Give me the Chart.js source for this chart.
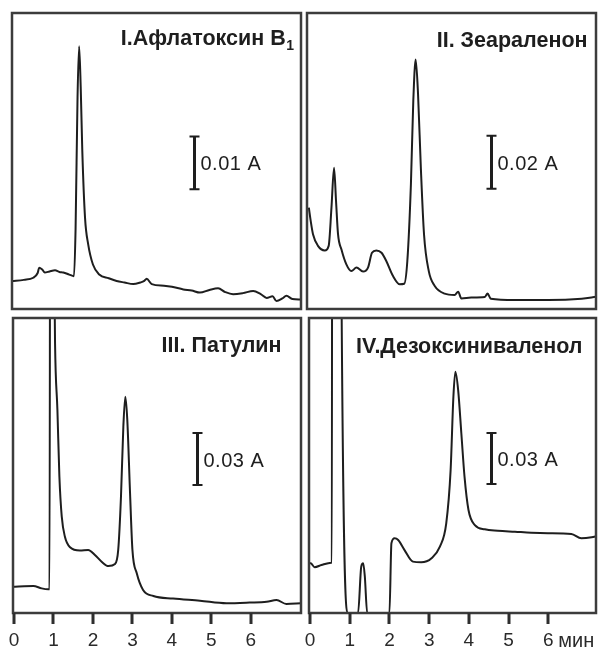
<!DOCTYPE html>
<html>
<head>
<meta charset="utf-8">
<script src="https://cdn.jsdelivr.net/npm/chart.js@4"></script>
<style>
  body { margin: 0; background: #fff; width: 598px; height: 648px; position: relative; overflow: hidden; }
  .panel { position: absolute; }
</style>
</head>
<body>
<div class="panel" id="p1"><canvas id="c1"></canvas></div>
<div class="panel" id="p2"><canvas id="c2"></canvas></div>
<div class="panel" id="p3"><canvas id="c3"></canvas></div>
<div class="panel" id="p4"><canvas id="c4"></canvas></div>
<script>
// retention time, min  /  signal, mA (1 mA = 0.001 A)
const timeI = [-0.05, 0.25, 0.49, 0.6, 0.64, 0.72, 0.78, 0.9, 1.04, 1.15, 1.25, 1.4, 1.52, 1.56, 1.61, 1.65, 1.69, 1.73, 1.8, 1.88, 2.0, 2.16, 2.4, 2.6, 2.8, 3.02, 3.2, 3.3, 3.36, 3.49, 3.8, 4.0, 4.29, 4.5, 4.71, 4.95, 5.17, 5.35, 5.55, 5.8, 6.06, 6.25, 6.4, 6.55, 6.65, 6.8, 6.9, 7.05, 7.27];
const signalI = [5.3, 5.5, 5.9, 6.8, 7.8, 7.4, 6.9, 7.1, 7.3, 7.0, 6.9, 6.5, 6.2, 15, 40, 49.6, 42, 30, 17.2, 12.2, 8.4, 6.5, 5.8, 5.3, 5.0, 4.7, 5.0, 5.3, 5.7, 4.7, 4.4, 4.2, 3.7, 3.5, 3.1, 3.6, 3.9, 3.2, 2.8, 3.0, 3.4, 2.8, 2.1, 2.4, 1.5, 2.0, 2.5, 1.9, 1.8];

const timeII = [-0.03, 0.017, 0.075, 0.2, 0.37, 0.47, 0.54, 0.605, 0.655, 0.705, 0.79, 0.915, 1.04, 1.17, 1.335, 1.46, 1.56, 1.67, 1.8, 1.92, 2.09, 2.26, 2.37, 2.45, 2.54, 2.6, 2.66, 2.72, 2.79, 2.87, 2.99, 3.14, 3.39, 3.64, 3.73, 3.81, 4.06, 4.4, 4.47, 4.55, 5.16, 6.0, 6.84, 7.21];
const signalII = [38.2, 33.2, 28.2, 23.8, 22.1, 23.8, 38.2, 53.3, 40.7, 28.2, 22.5, 16.8, 14.3, 15.6, 14.1, 15.6, 21.2, 22.1, 21.2, 18.1, 12.4, 9.3, 9.5, 18.1, 47, 78.4, 94.1, 80.9, 53.3, 28.2, 14.3, 8.7, 5.8, 5.3, 6.5, 4.0, 4.3, 4.5, 5.8, 3.9, 3.4, 3.4, 3.9, 4.6];

const timeIII = [-0.03, 0.025, 0.49, 0.7, 0.87, 0.9, 0.92, 0.99, 1.02, 1.04, 1.1, 1.15, 1.21, 1.29, 1.42, 1.67, 1.88, 2.05, 2.22, 2.39, 2.56, 2.64, 2.71, 2.77, 2.82, 2.87, 2.94, 3.0, 3.11, 3.27, 3.53, 4.03, 4.71, 5.38, 5.97, 6.4, 6.65, 6.9, 7.27];
const signalIII = [15.2, 15.2, 15.6, 14.2, 13.7, 13.7, 320, 320, 200, 155.6, 117.1, 78.7, 55.6, 44, 37.9, 36, 36.4, 33.5, 29.6, 27.1, 28.3, 36.4, 67.1, 107.5, 124.8, 111.4, 69, 36.4, 22.9, 13.3, 9.8, 8.3, 7.1, 5.6, 6.0, 6.5, 7.5, 5.2, 5.6];

const timeIV = [-0.03, 0.017, 0.118, 0.286, 0.537, 0.55, 0.56, 0.78, 0.79, 0.96, 1.21, 1.29, 1.34, 1.38, 1.44, 1.98, 2.0, 2.05, 2.13, 2.22, 2.38, 2.59, 2.8, 3.06, 3.27, 3.43, 3.54, 3.61, 3.66, 3.73, 3.81, 3.89, 3.99, 4.15, 4.4, 4.73, 5.16, 5.57, 5.99, 6.58, 6.83, 7.09, 7.23];
const signalIV = [29.2, 29.2, 26.9, 28.2, 29.6, 29.6, 350, 350, 200, 0, 0, 27.2, 29.2, 21.6, 0, 0, 0, 41, 43.9, 42.9, 37, 30.2, 29.8, 32.2, 39, 52.7, 84, 127.2, 141.9, 131.1, 105.7, 80.2, 60.6, 51.7, 49.2, 48.4, 47.8, 47.2, 46.9, 46.5, 43.9, 44.5, 45.3];

const panelTitles = ['I.Афлатоксин B', 'II. Зеараленон', 'III. Патулин', 'IV.Дезоксиниваленол'];
const titleSubscripts = ['1', '', '', ''];
const scaleBarTime = [4.56, 4.55, 4.64, 4.55];
const scaleBarStart = [22.6, 45.3, 73.8, 75.9];
const scaleBarLength = [10, 20, 30, 30];
const scaleBarLabels = ['0.01 A', '0.02 A', '0.03 A', '0.03 A'];
const tickValues = [0, 1, 2, 3, 4, 5, 6];
const timeUnit = 'мин';

const INK = '#1e1e1e';
const FONT = '"Liberation Sans", Arial, sans-serif';

// frame (left, top, right, bottom) in page px, time and signal limits
const layouts = [
  { frame: [12, 13, 301, 309], xMin: -0.05, xMax: 7.27, yMax: 55.9, axis: false, titleRight: 7, titleBase: 32 },
  { frame: [307, 13, 596, 309], xMin: -0.076, xMax: 7.20, yMax: 111.6, axis: false, titleRight: 8, titleBase: 34 },
  { frame: [13, 318, 301, 613], xMin: -0.025, xMax: 7.27, yMax: 170.2, axis: true, titleRight: 19, titleBase: 34 },
  { frame: [309, 318, 596, 613], xMin: -0.025, xMax: 7.20, yMax: 173.5, axis: true, titleRight: 13, titleBase: 35, unit: true }
];
const series = [[timeI, signalI], [timeII, signalII], [timeIII, signalIII], [timeIV, signalIV]];

const PAD_L = 16, PAD_T = 4, PAD_R = 2, AXIS_H = 35, TICK_LEN = 11;

// frame, title, scale bar and tick marks, drawn last
const panelDecor = {
  id: 'panelDecor',
  afterDraw(chart) {
    const o = chart.options.plugins.panelDecor;
    const { ctx, chartArea: a, scales: { x, y } } = chart;
    ctx.save();
    ctx.strokeStyle = '#3c3c3c';
    ctx.lineWidth = 2.5;
    ctx.strokeRect(a.left, a.top, a.width, a.height);

    // tick marks under the time axis
    if (chart.canvas.height > a.bottom + 20) {
      ctx.fillStyle = '#2e2e2e';
      tickValues.forEach(v => {
        const px = Math.round(x.getPixelForValue(v));
        ctx.fillRect(px - 1.5, a.bottom, 3, TICK_LEN);
      });
    }

    // title, right aligned
    ctx.fillStyle = INK;
    ctx.textBaseline = 'alphabetic';
    const tx = a.right - o.titleRight, ty = a.top + o.titleBase;
    let subW = 0;
    if (o.sub) {
      ctx.font = 'bold 14px ' + FONT;
      subW = ctx.measureText(o.sub).width;
      ctx.textAlign = 'right';
      ctx.fillText(o.sub, tx, ty + 5);
    }
    ctx.font = 'bold 21.5px ' + FONT;
    ctx.textAlign = 'right';
    ctx.fillText(o.title, tx - subW - 0.5, ty);

    // scale bar
    const bx = Math.round(x.getPixelForValue(o.barX)) + 0.5;
    const b0 = y.getPixelForValue(o.barY);
    const b1 = y.getPixelForValue(o.barY + o.barLen);
    ctx.strokeStyle = INK;
    ctx.lineWidth = 3;
    ctx.beginPath();
    ctx.moveTo(bx, b0); ctx.lineTo(bx, b1);
    ctx.stroke();
    ctx.lineWidth = 2;
    ctx.beginPath();
    ctx.moveTo(bx - 5, b0); ctx.lineTo(bx + 5, b0);
    ctx.moveTo(bx - 5, b1); ctx.lineTo(bx + 5, b1);
    ctx.stroke();
    ctx.font = '20px ' + FONT;
    ctx.letterSpacing = '0.5px';
    ctx.textAlign = 'left';
    ctx.textBaseline = 'middle';
    ctx.fillText(o.barLabel, bx + 6, (b0 + b1) / 2 + 2);
    ctx.letterSpacing = '0px';

    // unit after the last tick label
    if (o.unit) {
      ctx.font = '20px ' + FONT;
      ctx.fillStyle = '#2a2a2a';
      ctx.textAlign = 'left';
      ctx.textBaseline = 'alphabetic';
      ctx.fillText(o.unit, x.getPixelForValue(6) + 10, a.bottom + 34);
    }
    ctx.restore();
  }
};

layouts.forEach((L, i) => {
  const [l, t, r, b] = L.frame;
  const box = document.getElementById('p' + (i + 1));
  const w = (r - l) + PAD_L + PAD_R;
  const h = (b - t) + PAD_T + (L.axis ? AXIS_H : 4);
  box.style.left = (l - PAD_L) + 'px';
  box.style.top = (t - PAD_T) + 'px';
  box.style.width = w + 'px';
  box.style.height = h + 'px';

  const [times, values] = series[i];
  const xScale = {
    type: 'linear',
    min: L.xMin,
    max: L.xMax,
    display: L.axis,
    afterBuildTicks: s => { s.ticks = tickValues.map(v => ({ value: v })); },
    grid: { drawOnChartArea: false, drawTicks: true, tickLength: TICK_LEN, lineWidth: 2, color: '#333', tickColor: '#333', tickWidth: 2 },
    border: { display: true, width: 2, color: '#333' },
    ticks: { color: '#2a2a2a', padding: 5, maxRotation: 0, autoSkip: false, font: { family: FONT, size: 19 } }
  };
  if (L.axis) xScale.afterFit = s => { s.height = AXIS_H; };

  new Chart(document.getElementById('c' + (i + 1)), {
    type: 'line',
    data: {
      datasets: [{
        data: times.map((tm, k) => ({ x: tm, y: values[k] })),
        borderColor: INK,
        borderWidth: 2,
        pointRadius: 0,
        fill: false,
        cubicInterpolationMode: 'monotone',
        borderJoinStyle: 'round'
      }]
    },
    options: {
      responsive: true,
      maintainAspectRatio: false,
      animation: false,
      layout: { padding: { left: PAD_L, top: PAD_T, right: PAD_R, bottom: L.axis ? 0 : 4 } },
      plugins: {
        legend: { display: false },
        tooltip: { enabled: false },
        panelDecor: {
          title: panelTitles[i],
          sub: titleSubscripts[i],
          titleRight: L.titleRight,
          titleBase: L.titleBase,
          barX: scaleBarTime[i],
          barY: scaleBarStart[i],
          barLen: scaleBarLength[i],
          barLabel: scaleBarLabels[i],
          unit: L.unit ? timeUnit : ''
        }
      },
      scales: {
        x: xScale,
        y: { display: false, min: 0, max: L.yMax }
      }
    },
    plugins: [panelDecor]
  });
});
</script>
</body>
</html>
